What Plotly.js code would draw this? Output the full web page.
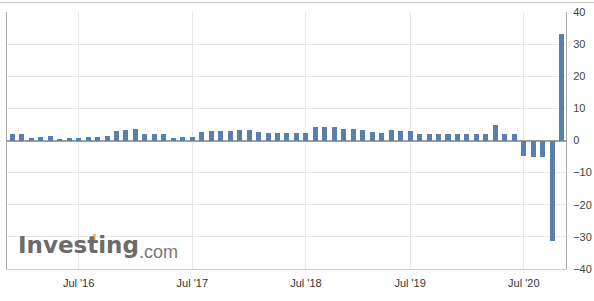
<!DOCTYPE html>
<html>
<head>
<meta charset="utf-8">
<script src="https://cdn.plot.ly/plotly-3.0.1.min.js"></script>
<style>
html,body{margin:0;padding:0;background:#fff;}
#chart{width:594px;height:301px;}
</style>
</head>
<body>
<div id="chart"></div>
<script>
// One bar per release, in order (ordinal axis, as on the source chart)
const values = [
  2.0, 2.0, 0.7, 1.0, 1.4, 0.5, 0.8, 0.8, 1.1, 1.1,
  1.4, 2.9, 3.2, 3.5, 1.9, 1.9, 2.1, 0.7, 1.1, 1.1,
  2.6, 3.0, 3.0, 3.0, 3.3, 3.2, 2.6, 2.4, 2.3, 2.3,
  2.2, 2.2, 4.1, 4.2, 4.2, 3.5, 3.5, 3.4, 2.6, 2.2,
  3.2, 3.1, 3.1, 2.1, 2.0, 2.0, 1.9, 2.1, 2.1, 2.1,
  2.1, 4.8, 2.1, 2.1, -4.8, -5.0, -5.0, -31.4, 33.1
];
const tickPositions = [7, 19, 31, 42, 54];
const tickLabels = ["Jul '16", "Jul '17", "Jul '18", "Jul '19", "Jul '20"];
const yTicks = [-40, -30, -20, -10, 0, 10, 20, 30, 40];

const idx = values.map((v, i) => i);

// pixel -> paper helpers for decoration placement
const L = 7, R = 28, T = 12, B = 32, W = 594, H = 301;
const pw = W - L - R, ph = H - T - B;
const px = x => (x - L) / pw;
const py = y => (H - B - y) / ph;

const font = 'Arial, "Liberation Sans", sans-serif';

const trace = {
  type: 'bar',
  x: idx,
  y: values,
  width: 0.53,
  marker: {color: '#5b7fad', line: {width: 0}},
  hoverinfo: 'y'
};

const layout = {
  width: W, height: H,
  margin: {l: L, r: R, t: T, b: B, pad: 0},
  paper_bgcolor: '#fff',
  plot_bgcolor: '#fff',
  showlegend: false,
  bargap: 0,
  xaxis: {
    range: [-0.56, 58.46],
    tickvals: tickPositions,
    ticktext: tickLabels,
    ticks: '',
    ticklabelstandoff: 4,
    showgrid: true,
    gridcolor: '#e8e8e8',
    gridwidth: 1,
    zeroline: false,
    showline: true,
    linecolor: '#c0d0e0',
    linewidth: 1,
    tickfont: {family: font, size: 11, color: '#333'},
    fixedrange: true
  },
  yaxis: {
    side: 'right',
    range: [-40, 40],
    tickvals: yTicks,
    ticks: '',
    ticklabelstandoff: 4,
    showgrid: true,
    gridcolor: '#e8e8e8',
    gridwidth: 1,
    zeroline: true,
    zerolinecolor: '#a0a0a0',
    zerolinewidth: 2,
    showline: true,
    mirror: true,
    linecolor: '#a8a8a8',
    linewidth: 1,
    tickfont: {family: font, size: 11, color: '#444'},
    fixedrange: true
  },
  shapes: [
    {type: 'line', xref: 'paper', yref: 'paper',
     x0: px(0), x1: px(W), y0: py(2.5), y1: py(2.5),
     line: {color: '#c8c8c8', width: 1}},
    {type: 'path', xref: 'paper', yref: 'paper', layer: 'above',
     path: 'M ' + px(89.5) + ' ' + py(240) + ' L ' + px(94) + ' ' + py(234) +
           ' L ' + px(95.5) + ' ' + py(234) + ' L ' + px(95.5) + ' ' + py(240) + ' Z',
     fillcolor: '#f2a43a', line: {width: 0}}
  ],
  annotations: [
    {xref: 'paper', yref: 'paper', x: px(16), y: py(245), xanchor: 'left', yanchor: 'middle',
     text: 'Investing', showarrow: false,
     font: {family: '"DejaVu Sans", sans-serif', size: 23, color: '#6b6b6b', weight: 'bold'}},
    {xref: 'paper', yref: 'paper', x: px(137), y: py(251.5), xanchor: 'left', yanchor: 'middle',
     text: '.com', showarrow: false,
     font: {family: font, size: 18, color: '#777'}}
  ]
};

Plotly.newPlot('chart', [trace], layout, {displayModeBar: false, staticPlot: true});
</script>
</body>
</html>
